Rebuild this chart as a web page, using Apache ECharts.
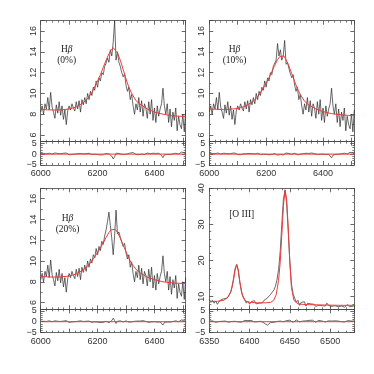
<!DOCTYPE html>
<html>
<head>
<meta charset="utf-8">
<script src="https://cdn.jsdelivr.net/npm/echarts@6/dist/echarts.min.js"></script>
<style>
  html, body { margin: 0; padding: 0; background: #fff; }
  #chart { width: 374px; height: 374px; }
</style>
</head>
<body>
<div id="chart"></div>
<script>
  // H-beta spectra: wavelength grid starts at 6000, 5 A steps
  const hbStart = 6000
  const hbStep = 5
  const hbObs0 = [
    8.2, 8.8, 8.0, 9.0, 8.5, 9.6, 8.4, 10.1, 8.7, 8.2,
    7.6, 8.9, 8.1, 9.2, 7.9, 8.8, 7.5, 8.4, 7.0, 8.3,
    8.8, 8.4, 9.0, 8.6, 8.3, 9.2, 8.5, 9.3, 8.2, 9.4,
    8.9, 9.6, 9.0, 10.0, 9.4, 10.2, 9.8, 10.6, 10.3, 11.2,
    10.6, 11.5, 11.2, 12.0, 11.8, 12.6, 12.9, 13.4, 13.0, 14.2,
    13.6, 14.9, 17.0, 13.2, 14.0, 13.0, 12.6, 12.0, 11.6, 11.9,
    10.8, 10.2, 10.6, 9.4, 9.9, 8.8, 8.0, 9.0, 8.4, 9.6,
    8.2, 9.3, 7.8, 9.0, 8.6, 7.6, 9.2, 8.0, 9.4, 7.4,
    8.6, 7.2, 8.8, 7.8, 8.5, 9.0, 10.5, 8.8, 8.0, 9.0,
    7.2, 8.5, 6.8, 8.2, 7.4, 8.6, 6.4, 7.8, 7.0, 6.6,
    8.0, 6.3, 8.4
  ]
  const hbObs10 = [
    8.2, 8.8, 8.0, 9.0, 8.5, 9.6, 8.4, 10.1, 8.7, 8.2,
    7.6, 8.9, 8.1, 9.2, 7.9, 8.8, 7.5, 8.4, 7.0, 8.3,
    8.8, 8.4, 9.0, 8.6, 8.3, 9.2, 8.5, 9.3, 8.2, 9.4,
    8.9, 9.6, 9.0, 10.0, 9.4, 10.2, 9.8, 10.6, 10.3, 11.2,
    10.6, 11.5, 11.2, 12.0, 11.8, 12.6, 12.7, 13.2, 14.8, 13.6,
    14.2, 13.2, 13.6, 15.1, 12.8, 13.0, 12.4, 11.9, 11.5, 11.8,
    10.8, 10.2, 10.6, 9.4, 9.9, 8.8, 8.0, 9.0, 8.4, 9.6,
    8.2, 9.3, 7.8, 9.0, 8.6, 7.6, 9.2, 8.0, 9.4, 7.4,
    8.6, 7.2, 8.8, 7.8, 8.5, 9.0, 10.5, 8.8, 8.0, 9.0,
    7.2, 8.5, 6.8, 8.2, 7.4, 8.6, 6.4, 7.8, 7.0, 6.6,
    8.0, 6.3, 8.4
  ]
  const hbObs20 = [
    8.2, 8.8, 8.0, 9.0, 8.5, 9.6, 8.4, 10.1, 8.7, 8.2,
    7.6, 8.9, 8.1, 9.2, 7.9, 8.8, 7.5, 8.4, 7.0, 8.3,
    8.8, 8.4, 9.0, 8.6, 8.3, 9.2, 8.5, 9.3, 8.2, 9.4,
    8.9, 9.6, 9.0, 10.0, 9.4, 10.2, 9.8, 10.6, 10.3, 11.2,
    10.6, 11.4, 11.0, 11.9, 11.6, 12.4, 13.0, 13.8, 14.7, 13.4,
    12.2, 10.6, 12.4, 14.9, 12.6, 12.8, 12.3, 11.8, 11.4, 11.7,
    10.8, 10.2, 10.6, 9.4, 9.9, 8.8, 8.0, 9.0, 8.4, 9.6,
    8.2, 9.3, 7.8, 9.0, 8.6, 7.6, 9.2, 8.0, 9.4, 7.4,
    8.6, 7.2, 8.8, 7.8, 8.5, 9.0, 10.5, 8.8, 8.0, 9.0,
    7.2, 8.5, 6.8, 8.2, 7.4, 8.6, 6.4, 7.8, 7.0, 6.6,
    8.0, 6.3, 8.4
  ]

  // residuals on the same grid
  const hbRes0 = [
    0.2, -0.4, 0.3, -0.6, 0.1, -0.3, 0.4, -0.2, 0.0, 0.3,
    0.5, -0.1, 0.3, 0.6, 0.2, -0.2, 0.4, 0.1, 0.5, 0.2,
    -0.3, 0.1, -0.2, 0.3, 0.0, -0.4, 0.2, -0.1, 0.3, -0.2,
    0.1, -0.3, 0.2, -0.1, 0.4, 0.0, -0.2, 0.3, -0.1, 0.2,
    -0.2, 0.1, -0.4, 0.2, -0.3, 0.0, 0.3, -0.2, 0.1, -0.6,
    -0.9, -2.2, -1.2, 0.4, -0.2, 0.3, 0.6, -0.1, 0.3, -0.2,
    0.4, 0.1, -0.2, 0.5, -0.1, 0.7, 0.2, -0.1, 0.4, -0.3,
    0.3, 0.0, 0.6, -0.2, 0.1, 0.5, -0.3, 0.2, -0.1, 0.4,
    0.0, 0.3, -0.2, 0.4, -0.1, -0.6, -1.6, -0.4, 0.2, -0.1,
    0.5, -0.2, 0.6, 0.1, -0.3, 0.4, 0.8, 0.0, 0.5, 0.9,
    0.1, 0.7, -0.2
  ]
  const hbRes10 = [
    0.1, -0.5, 0.3, -0.4, 0.2, -0.3, 0.5, -0.2, 0.1, 0.3,
    0.4, -0.2, 0.3, 0.5, 0.1, -0.3, 0.4, 0.0, 0.5, 0.2,
    -0.2, 0.2, -0.3, 0.3, 0.1, -0.4, 0.2, -0.2, 0.3, -0.1,
    0.2, -0.3, 0.1, -0.2, 0.4, 0.1, -0.2, 0.2, -0.1, 0.3,
    -0.1, 0.2, -0.3, 0.1, -0.2, 0.1, 0.2, -0.3, -0.5, 0.2,
    -0.2, 0.3, -0.4, -1.0, 0.5, -0.1, 0.3, 0.6, -0.1, 0.3,
    0.4, 0.0, -0.3, 0.5, -0.1, 0.6, 0.2, -0.2, 0.4, -0.2,
    0.3, 0.1, 0.5, -0.2, 0.2, 0.5, -0.2, 0.3, -0.1, 0.4,
    0.0, 0.3, -0.2, 0.4, -0.1, -0.7, -1.7, -0.5, 0.2, -0.1,
    0.5, -0.1, 0.6, 0.2, -0.3, 0.4, 0.7, 0.1, 0.5, 0.8,
    0.2, 0.6, -0.1
  ]
  const hbRes20 = [
    0.2, -0.4, 0.2, -0.5, 0.1, -0.2, 0.4, -0.3, 0.0, 0.3,
    0.4, -0.1, 0.2, 0.6, 0.1, -0.2, 0.3, 0.1, 0.5, 0.1,
    -0.3, 0.1, -0.1, 0.3, 0.0, -0.3, 0.2, -0.1, 0.4, -0.2,
    0.1, -0.2, 0.2, -0.1, 0.3, 0.0, -0.3, 0.3, -0.1, 0.2,
    -0.2, 0.2, -0.4, 0.1, -0.3, 0.1, 0.2, -0.2, -0.4, 0.1,
    0.5, 1.6, 0.6, -0.8, 0.2, 0.1, 0.4, 0.2, -0.1, 0.3,
    0.4, 0.1, -0.2, 0.4, -0.1, 0.6, 0.2, -0.1, 0.3, -0.3,
    0.3, 0.0, 0.5, -0.2, 0.1, 0.4, -0.3, 0.2, -0.1, 0.4,
    0.0, 0.3, -0.2, 0.3, -0.1, -0.6, -1.5, -0.4, 0.2, -0.1,
    0.4, -0.2, 0.6, 0.1, -0.2, 0.4, 0.7, 0.0, 0.5, 0.8,
    0.1, 0.6, -0.2
  ]

  // fitted profiles (wavelength, flux)
  const hbFitWave = [6000, 6025, 6050, 6075, 6100, 6125, 6150, 6165, 6180, 6195, 6210, 6220, 6230, 6240, 6248,
    6255, 6262, 6270, 6280, 6290, 6300, 6310, 6320, 6335, 6350, 6375, 6400, 6430, 6460, 6490, 6510]
  const hbFit0 = [8.45, 8.42, 8.4, 8.42, 8.5, 8.7, 9.1, 9.5, 10.1, 10.9, 11.8, 12.5, 13.2, 13.8, 14.2,
    14.4, 14.3, 13.9, 13.2, 12.3, 11.4, 10.6, 10.0, 9.3, 8.95, 8.5, 8.2, 8.0, 7.85, 7.8, 7.78]
  const hbFit10 = [8.5, 8.47, 8.45, 8.48, 8.55, 8.75, 9.15, 9.5, 10.05, 10.75, 11.5, 12.1, 12.7, 13.25, 13.55,
    13.7, 13.6, 13.25, 12.65, 11.9, 11.15, 10.45, 9.9, 9.25, 8.9, 8.5, 8.25, 8.05, 7.95, 7.88, 7.85]
  const hbFit20 = [8.5, 8.47, 8.45, 8.48, 8.55, 8.75, 9.15, 9.5, 10.0, 10.6, 11.25, 11.75, 12.25, 12.75, 13.0,
    13.12, 13.05, 12.75, 12.2, 11.55, 10.9, 10.25, 9.75, 9.2, 8.85, 8.45, 8.2, 8.0, 7.9, 7.85, 7.82]

  // [O III] doublet: grid starts at 6350, 2 A steps
  const oStart = 6350
  const oStep = 2
  const oObs = [
    9.2, 8.4, 9.0, 8.2, 8.8, 7.9, 8.5, 9.1, 8.6, 9.4,
    9.0, 9.6, 10.2, 11.0, 12.4, 15.0, 17.8, 18.9, 17.0, 13.8,
    11.2, 9.8, 9.0, 8.2, 8.8, 7.9, 8.6, 8.1, 8.9, 8.0,
    8.5, 8.2, 8.7, 8.3, 9.0, 8.8, 9.6, 9.9, 10.6, 11.0,
    11.8, 12.8, 14.6, 17.5, 22.5, 30.0, 37.0, 39.4, 36.0, 28.0,
    19.5, 13.5, 10.8, 9.6, 8.4, 9.0, 7.6, 8.4, 7.9, 8.6,
    7.4, 8.2, 7.7, 8.0, 7.5, 7.9, 7.3, 7.8, 7.6, 8.1,
    7.5, 7.9, 7.4, 8.2, 7.6, 7.9, 7.3, 7.7, 7.5, 7.9,
    7.2, 7.6, 7.4, 7.8, 7.1, 7.5, 7.8, 7.2, 7.6, 7.3,
    7.5
  ]
  const oRes = [
    0.3, -0.2, 0.4, 0.0, -0.3, 0.5, 0.1, -0.4, 0.2, -0.1,
    0.3, -0.5, -0.2, 0.4, 0.1, -0.3, 0.2, 0.5, -0.1, 0.3,
    -0.2, 0.4, 0.6, 0.2, 0.5, 0.1, 0.6, 0.2, -0.1, 0.4,
    0.0, 0.5, 0.2, -0.3, -0.6, -1.0, -1.6, -1.2, -0.4, 0.2,
    -0.3, 0.4, 0.1, -0.4, 0.3, 0.6, 0.0, -0.2, 0.5, 0.1,
    0.7, 0.2, -0.3, 0.4, 0.8, 0.2, -0.1, 0.5, 0.3, 0.9,
    0.4, 0.0, 0.6, 0.2, 0.7, 0.1, -0.2, 0.4, 0.6, 0.1,
    0.3, 0.5, -0.1, 0.2, 0.4, 0.0, 0.3, -0.2, 0.4, 0.1,
    0.3, 0.6, 0.0, 0.4, -0.1, 0.3, 0.5, 0.1, 0.3, 0.2,
    0.3
  ]
  const oFitWave = [6350, 6360, 6368, 6373, 6377, 6380, 6382, 6384, 6386, 6388, 6391, 6395, 6400, 6410, 6420,
    6426, 6430, 6433, 6436, 6438, 6440, 6442, 6444, 6446, 6448, 6450, 6452, 6455, 6460, 6470, 6490, 6510, 6530]
  const oFit = [8.7, 8.7, 9.0, 9.8, 11.5, 14.5, 17.2, 18.9, 17.5, 14.0, 10.5, 8.8, 8.4, 8.3, 8.3,
    8.4, 9.0, 10.5, 14.5, 19.5, 27.0, 35.0, 39.6, 37.0, 29.0, 19.5, 12.5, 9.0, 8.0, 7.8, 7.7, 7.6, 7.6]

  const toPairs = (start, step, vals) => vals.map((v, i) => [start + i * step, v])
  const zip = (xs, ys) => xs.map((x, i) => [x, ys[i]])

  const W = 145
  const MAIN_H = 121
  const RES_H = 23.3
  const axisColor = '#444'
  const black = '#2a2a2a'
  const red = '#ee3a3a'

  const hbX = {min: 6000, max: 6510, step: 100, minor: 5, labelStep: 200}
  const oX = {min: 6350, max: 6530, step: 50, minor: 5, labelStep: 50}
  const hbY = {min: 5.35, max: 17, step: 2, minor: 2}
  const oY = {min: 6.5, max: 40, step: 10, minor: 5}
  const resY = {min: -5, max: 5.7, step: 5, minor: 5}

  const panels = [
    {left: 40.7, top: 20.7, x: hbX, y: hbY, obs: toPairs(hbStart, hbStep, hbObs0),
      fit: zip(hbFitWave, hbFit0), res: toPairs(hbStart, hbStep, hbRes0)},
    {left: 209.3, top: 20.7, x: hbX, y: hbY, obs: toPairs(hbStart, hbStep, hbObs10),
      fit: zip(hbFitWave, hbFit10), res: toPairs(hbStart, hbStep, hbRes10)},
    {left: 40.7, top: 188.3, x: hbX, y: hbY, obs: toPairs(hbStart, hbStep, hbObs20),
      fit: zip(hbFitWave, hbFit20), res: toPairs(hbStart, hbStep, hbRes20)},
    {left: 209.3, top: 188.3, x: oX, y: oY, obs: toPairs(oStart, oStep, oObs),
      fit: zip(oFitWave, oFit), res: toPairs(oStart, oStep, oRes)}
  ]

  const onStep = (v, step) => Math.abs(v / step - Math.round(v / step)) < 1e-6

  function xAxis(gi, x, pos, showLabel) {
    return {
      type: 'value', gridIndex: gi, position: pos, min: x.min, max: x.max,
      minInterval: x.step, maxInterval: x.step,
      axisLine: {show: true, onZero: false, lineStyle: {color: axisColor, width: 0.8}},
      axisTick: {show: true, inside: true, length: 4, lineStyle: {color: axisColor, width: 0.8}},
      minorTick: {show: true, splitNumber: x.minor, length: 2, lineStyle: {color: axisColor, width: 0.7}},
      splitLine: {show: false},
      axisLabel: {
        show: showLabel, margin: 4, color: '#333', fontSize: 9, fontFamily: 'Liberation Sans',
        formatter: v => (onStep(v, x.labelStep) ? String(Math.round(v)) : '')
      }
    }
  }

  function yAxis(gi, y, pos, labelMode) {
    return {
      type: 'value', gridIndex: gi, position: pos, min: y.min, max: y.max,
      minInterval: y.step, maxInterval: y.step,
      axisLine: {show: true, onZero: false, lineStyle: {color: axisColor, width: 0.8}},
      axisTick: {show: true, inside: true, length: 4, lineStyle: {color: axisColor, width: 0.8}},
      minorTick: {show: true, splitNumber: y.minor, length: 2, lineStyle: {color: axisColor, width: 0.7}},
      splitLine: {show: false},
      axisLabel: {
        show: !!labelMode, margin: labelMode === 'rot' ? 3 : 4, rotate: labelMode === 'rot' ? 90 : 0,
        color: '#333', fontSize: 9, fontFamily: 'Liberation Sans',
        formatter: v => {
          if (!onStep(v, y.step)) return ''
          const n = Math.round(v)
          return n < 0 ? '\u2212' + Math.abs(n) : String(n)
        }
      }
    }
  }

  const grids = []
  const xAxes = []
  const yAxes = []
  const series = []

  function addGrid(left, top, height, x, y, showX, yLabel) {
    const gi = grids.length
    grids.push({left, top, width: W, height, show: false, outerBoundsMode: 'none'})
    const xi = xAxes.length
    xAxes.push(xAxis(gi, x, 'bottom', showX))
    xAxes.push(xAxis(gi, x, 'top', false))
    const yi = yAxes.length
    yAxes.push(yAxis(gi, y, 'left', yLabel))
    yAxes.push(yAxis(gi, y, 'right', null))
    return {xi, yi}
  }

  function line(ax, data, color, width, z) {
    return {
      type: 'line', xAxisIndex: ax.xi, yAxisIndex: ax.yi, data, symbol: 'none', smooth: false,
      lineStyle: {color, width}, silent: true, animation: false, z
    }
  }

  panels.forEach(p => {
    const main = addGrid(p.left, p.top, MAIN_H, p.x, p.y, false, 'rot')
    const res = addGrid(p.left, p.top + MAIN_H, RES_H, p.x, resY, true, 'flat')
    series.push(line(main, p.obs, black, 0.7, 2))
    series.push(line(main, p.fit, red, 1, 3))
    series.push(line(res, p.res, black, 0.7, 2))
    series.push(line(res, [[p.x.min, 0], [p.x.max, 0]], red, 1, 3))
  })

  const serif = '"Liberation Serif", "DejaVu Serif", serif'
  function label(x, y, text, rich) {
    return {
      type: 'text', x, y, silent: true,
      style: {
        text, rich, align: 'center', verticalAlign: 'middle', fill: '#222',
        fontSize: 9.5, fontFamily: serif
      }
    }
  }
  const hbRich = {
    n: {fontSize: 9.5, fontFamily: serif, fill: '#222'},
    i: {fontSize: 9.5, fontFamily: serif, fontStyle: 'italic', fill: '#222'}
  }

  const chart = echarts.init(document.getElementById('chart'), null, {renderer: 'canvas'})
  chart.setOption({
    backgroundColor: '#fff',
    animation: false,
    grid: grids,
    xAxis: xAxes,
    yAxis: yAxes,
    series,
    graphic: [
      label(66.7, 49, '{n|H}{i|β}', hbRich),
      label(66.7, 60, '(0%)'),
      label(234.5, 49, '{n|H}{i|β}', hbRich),
      label(234.5, 60, '(10%)'),
      label(67.5, 218, '{n|H}{i|β}', hbRich),
      label(67.5, 229, '(20%)'),
      label(241.7, 214, '[O III]')
    ]
  })
</script>
</body>
</html>
